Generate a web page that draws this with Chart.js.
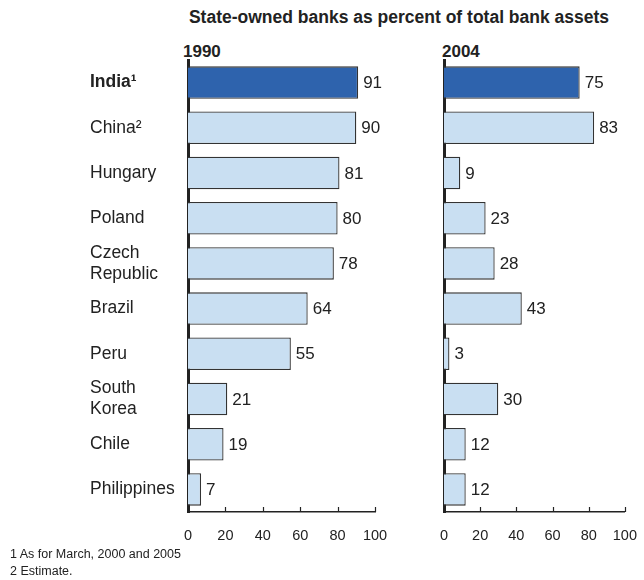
<!DOCTYPE html>
<html>
<head>
<meta charset="utf-8">
<script src="https://cdn.jsdelivr.net/npm/chart.js@4.4.1/dist/chart.umd.min.js"></script>
<style>
  body { margin: 0; background: #fff; font-family: 'Liberation Sans', Arial, sans-serif; color: #222; }
  #wrap { position: relative; width: 644px; height: 580px; }
  .txt { position: absolute; white-space: nowrap; }
  #title { left: 399px; top: 7px; transform: translateX(-50%); font-weight: bold; font-size: 17.5px; line-height: 20px; }
  .year { top: 43px; font-weight: bold; font-size: 17px; line-height: 18px; }
  .note { left: 10px; font-size: 12.5px; line-height: 16px; }
  canvas { position: absolute; top: 0; }
</style>
</head>
<body>
<div id="wrap">
  <div id="title" class="txt">State-owned banks as percent of total bank assets</div>
  <div class="txt year" style="left:183px">1990</div>
  <div class="txt year" style="left:442px">2004</div>
  <canvas id="left" width="400" height="550" style="left:0"></canvas>
  <canvas id="right" width="244" height="550" style="left:400px"></canvas>
  <div class="txt note" style="top:546px">1 As for March, 2000 and 2005</div>
  <div class="txt note" style="top:563px">2 Estimate.</div>
</div>
<script>
const countries = ['India\u00b9', 'China\u00b2', 'Hungary', 'Poland', ['Czech', 'Republic'],
  'Brazil', 'Peru', ['South', 'Korea'], 'Chile', 'Philippines'];
const share1990 = [91, 90, 81, 80, 78, 64, 55, 21, 19, 7];
const share2004 = [75, 83, 9, 23, 28, 43, 3, 30, 12, 12];
const xTicks = [0, 20, 40, 60, 80, 100];

const FONT = "'Liberation Sans', Arial, sans-serif";
const INK = '#222';
const barFill = countries.map((c, i) => i === 0 ? '#2e63ad' : '#c9dff2');

// value next to the end of each bar
const barValues = {
  id: 'barValues',
  afterDatasetsDraw(chart) {
    const ctx = chart.ctx;
    const ds = chart.data.datasets[0];
    ctx.save();
    ctx.font = '17px ' + FONT;
    ctx.fillStyle = INK;
    ctx.textBaseline = 'middle';
    chart.getDatasetMeta(0).data.forEach((bar, i) => {
      ctx.fillText(ds.data[i], bar.x + 5, bar.y + 1);
    });
    ctx.restore();
  }
};

// short tick marks standing up from the bottom axis
const innerTicks = {
  id: 'innerTicks',
  afterDraw(chart) {
    const ctx = chart.ctx;
    const x = chart.scales.x;
    const y0 = chart.chartArea.bottom;
    ctx.save();
    ctx.strokeStyle = INK;
    ctx.lineWidth = 1.2;
    xTicks.slice(1).forEach(v => {
      const px = Math.round(x.getPixelForValue(v)) + 0.5;
      ctx.beginPath();
      ctx.moveTo(px, y0);
      ctx.lineTo(px, y0 - 5);
      ctx.stroke();
    });
    ctx.restore();
  }
};

function makePanel(id, values, showNames, padLeft, axisWidth, padRight) {
  return new Chart(document.getElementById(id), {
    type: 'bar',
    data: {
      labels: countries,
      datasets: [{
        data: values,
        backgroundColor: barFill,
        borderColor: '#333',
        borderWidth: 1.3,
        barPercentage: 0.72,
        categoryPercentage: 1
      }]
    },
    options: {
      indexAxis: 'y',
      responsive: false,
      animation: false,
      events: [],
      layout: { padding: { top: 60, left: padLeft, right: padRight, bottom: 0 } },
      plugins: { legend: { display: false }, tooltip: { enabled: false } },
      scales: {
        x: {
          min: 0,
          max: 100,
          afterBuildTicks: s => { s.ticks = xTicks.map(v => ({ value: v })); },
          afterFit: s => { s.height = 38; },
          grid: { display: false },
          border: { display: true, color: INK, width: 1.5 },
          ticks: { color: INK, font: { family: FONT, size: 14.5 }, padding: 7, maxRotation: 0 }
        },
        y: {
          afterFit: s => { s.width = axisWidth; },
          grid: { display: false },
          border: { display: true, color: INK, width: 3 },
          ticks: {
            display: showNames,
            crossAlign: 'far',
            color: INK,
            font: c => ({ family: FONT, size: 17.5, lineHeight: 1.2, weight: c.index === 0 ? 'bold' : 'normal' })
          }
        }
      }
    },
    plugins: [barValues, innerTicks]
  });
}

makePanel('left', share1990, true, 90, 98, 25);
makePanel('right', share2004, false, 0, 44, 13);
</script>
</body>
</html>
